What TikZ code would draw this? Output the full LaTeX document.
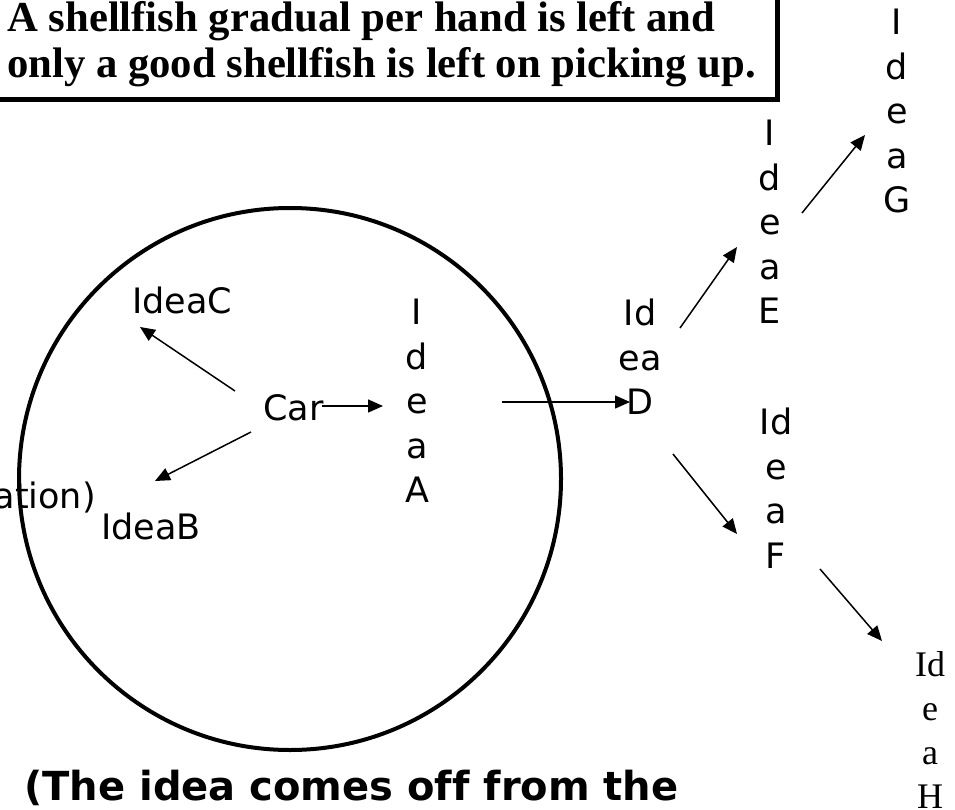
\documentclass[tikz,border=0pt]{standalone}
\usepackage{fontspec}
\setmainfont{DejaVu Sans}[Ligatures=NoCommon]
\newfontfamily\serifrm{Liberation Serif}
\usetikzlibrary{arrows.meta,calc}
\begin{document}
\begin{tikzpicture}[x=1pt,y=-1pt,
  lbl/.style={inner sep=0pt, align=center, font=\fontsize{35}{44.5}\selectfont},
  arr/.style={line width=1.5pt, -{Triangle[length=15pt,width=13pt]}}]
\useasboundingbox (0,0) rectangle (955,810);
\fill[white] (0,0) rectangle (955,810);
\clip (0,0) rectangle (955,810);

% title box
\node[anchor=north west, inner sep=0pt, align=left,
      font=\serifrm\bfseries\fontsize{42.7}{46}\selectfont] (title) at (7,1)
  {A shellfish gradual per hand is left and\\only a good shellfish is left on picking up.};
\draw[line width=5pt] (-20,-20) rectangle (777,100);

% circle
\node[circle, draw, line width=4pt, minimum size=542pt, inner sep=0pt] (circ) at (290,479) {};

% labels
\node[lbl] (car) at (293.5,408) {Car};
\node[lbl] (ideaC) at (182,300) {IdeaC};
\node[lbl] (ideaB) at (151,526) {IdeaB};
\node[inner sep=0pt, anchor=base east, font=\fontsize{35}{44.5}\selectfont] (ation) at (96,508) {ation)};
\node[lbl] (ideaA) at (417,401) {I\\d\\e\\a\\A};
\node[lbl] (ideaD) at (640,357) {Id\\ea\\D};
\node[lbl] (ideaE) at (770,222) {I\\d\\e\\a\\E};
\node[lbl] (ideaG) at (897,111) {I\\d\\e\\a\\G};
\node[lbl] (ideaF) at (776,488) {Id\\e\\a\\F};
\node[inner sep=0pt, align=center, font=\serifrm\fontsize{36}{44.3}\selectfont] (ideaH) at (930,730) {Id\\e\\a\\H};

% bottom note
\node[anchor=base west, inner sep=0pt, font=\bfseries\fontsize{40}{48}\selectfont] (note) at (24,800) {(The idea comes off from the};

% connectors
\draw[arr] ($(car)+(28.5,-2)$) -- ($(ideaA)+(-34,5)$);
\draw[arr] ($(car)+(-58.5,-17)$) -- ($(ideaC)+(-42,27)$);
\draw[arr] ($(car)+(-42.5,24)$) -- ($(ideaB)+(4,-45)$);
\draw[arr] ($(ideaA)+(85,1)$) -- ($(ideaD)+(-10,45)$);
\draw[arr] ($(ideaD)+(40,-29)$) -- ($(ideaE)+(-33,25)$);
\draw[arr] ($(ideaE)+(32,-9)$) -- ($(ideaG)+(-32,24)$);
\draw[arr] ($(ideaD)+(33,97)$) -- ($(ideaF)+(-39,46)$);
\draw[arr] ($(ideaF)+(44,81)$) -- ($(ideaH)+(-48,-89)$);
\end{tikzpicture}
\end{document}
